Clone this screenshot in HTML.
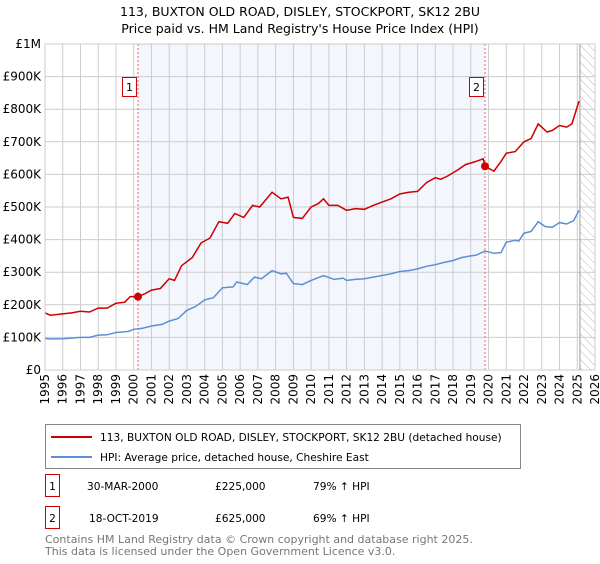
<!DOCTYPE html>
<html><head><meta charset="utf-8"><style>
body{margin:0;background:#fff;font-family:"DejaVu Sans","Liberation Sans",sans-serif;}
svg text{font-family:"DejaVu Sans","Liberation Sans",sans-serif;}
</style></head><body>
<svg id="chart" width="600" height="560" xmlns="http://www.w3.org/2000/svg">
<defs><pattern id="hatch" width="6" height="6" patternUnits="userSpaceOnUse" patternTransform="rotate(-45)"><line x1="0" y1="0" x2="0" y2="6" stroke="#bbb" stroke-width="1"/></pattern></defs>
<text x="300" y="16" text-anchor="middle" font-size="12.5">113, BUXTON OLD ROAD, DISLEY, STOCKPORT, SK12 2BU</text>
<text x="300" y="33" text-anchor="middle" font-size="12.5">Price paid vs. HM Land Registry's House Price Index (HPI)</text>
<g id="plot"></g>
<g>
<rect x="45.5" y="424.5" width="475" height="44" fill="#fff" stroke="#888"/>
<line x1="51" y1="437" x2="92" y2="437" stroke="#cc0000" stroke-width="2"/>
<text x="100" y="441" font-size="10.6">113, BUXTON OLD ROAD, DISLEY, STOCKPORT, SK12 2BU (detached house)</text>
<line x1="51" y1="457" x2="92" y2="457" stroke="#5b8fd4" stroke-width="2"/>
<text x="100" y="461" font-size="10.6">HPI: Average price, detached house, Cheshire East</text>
</g>
<g font-size="10.6">
<rect x="45.5" y="474.5" width="14" height="22" fill="#fff" stroke="#cc0000"/>
<text x="52.5" y="490" text-anchor="middle">1</text>
<text x="87" y="490">30-MAR-2000</text><text x="215" y="490">£225,000</text><text x="313" y="490">79% ↑ HPI</text>
<rect x="45.5" y="506.5" width="14" height="22" fill="#fff" stroke="#cc0000"/>
<text x="52.5" y="522" text-anchor="middle">2</text>
<text x="89" y="522">18-OCT-2019</text><text x="215" y="522">£625,000</text><text x="313" y="522">69% ↑ HPI</text>
</g>
<text x="45" y="543" font-size="11" fill="#777">Contains HM Land Registry data © Crown copyright and database right 2025.</text>
<text x="45" y="555" font-size="11" fill="#777">This data is licensed under the Open Government Licence v3.0.</text>
</svg>
<script>
const yTicks=[0,100,200,300,400,500,600,700,800,900,1000];
const yTickLabels=["£0","£100K","£200K","£300K","£400K","£500K","£600K","£700K","£800K","£900K","£1M"];
const xYears=[1995,1996,1997,1998,1999,2000,2001,2002,2003,2004,2005,2006,2007,2008,2009,2010,2011,2012,2013,2014,2015,2016,2017,2018,2019,2020,2021,2022,2023,2024,2025,2026];
const hpiT=[1995,1995.3,1996,1997,1997.5,1998,1998.5,1999,1999.7,2000,2000.5,2001,2001.6,2002,2002.5,2003,2003.5,2004,2004.5,2005,2005.6,2005.8,2006.4,2006.8,2007.2,2007.8,2008.3,2008.6,2009,2009.5,2010,2010.4,2010.7,2011.3,2011.8,2012,2012.5,2013,2013.5,2014,2014.5,2015,2015.5,2016,2016.5,2017,2017.5,2018,2018.5,2019,2019.3,2019.8,2020.3,2020.7,2021,2021.5,2021.7,2022,2022.4,2022.8,2023.2,2023.6,2024,2024.4,2024.8,2025.1];
const hpiV=[97,95,96,100,100,107,108,115,118,125,128,135,140,150,158,183,195,215,222,252,255,270,262,285,280,305,295,297,265,262,275,283,290,278,282,275,278,280,285,290,295,302,305,310,318,323,330,336,345,350,352,365,358,360,392,398,395,420,425,455,440,438,452,448,458,490];
const saleT=[1995,1995.3,1996,1996.5,1997,1997.5,1998,1998.5,1999,1999.5,1999.8,2000.24,2000.6,2001,2001.5,2002,2002.3,2002.7,2003.3,2003.8,2004.3,2004.8,2005.3,2005.7,2006.2,2006.7,2007.1,2007.8,2008.3,2008.7,2009,2009.5,2010,2010.4,2010.7,2011,2011.5,2012,2012.5,2013,2013.5,2014,2014.5,2015,2015.5,2016,2016.5,2017,2017.3,2017.7,2018.3,2018.7,2019.3,2019.7,2019.8,2020.3,2020.7,2021,2021.5,2022,2022.4,2022.8,2023.3,2023.6,2024,2024.4,2024.7,2025.1];
const saleV=[175,168,172,175,180,178,190,190,205,208,225,225,233,245,250,280,275,320,345,390,405,455,450,480,468,505,500,545,525,530,468,465,500,510,525,505,505,490,495,493,505,515,525,540,545,548,575,590,585,595,615,630,640,648,625,610,640,665,670,700,710,755,730,735,750,745,755,825];
const sales=[{t:2000.24,v:225,n:"1"},{t:2019.8,v:625,n:"2"}];
const X0=45,X1=595,Y0=370,Y1=44;
const xs=t=>X0+(t-1995)/31*(X1-X0);
const ys=v=>Y0-v/1000*(Y0-Y1);
const NS="http://www.w3.org/2000/svg";
const g=document.getElementById('plot');
function mk(tag,at,parent){const e=document.createElementNS(NS,tag);for(const k in at)e.setAttribute(k,at[k]);(parent||g).appendChild(e);return e;}
let e=mk('rect',{x:xs(sales[0].t),y:Y1,width:xs(sales[1].t)-xs(sales[0].t),height:Y0-Y1,fill:'#f3f6fd'});


e=mk('rect',{x:xs(2025.15),y:Y1,width:X1-xs(2025.15),height:Y0-Y1,fill:'url(#hatch)'});


yTicks.forEach((v,i)=>{
 e=mk('line',{x1:X0,x2:X1,y1:ys(v),y2:ys(v),stroke:'#ccc'});
 
 
 e=mk('text',{x:X0-4,y:ys(v)+4,'text-anchor':'end','font-size':'12'});e.textContent=yTickLabels[i];
 
 
});
xYears.forEach(y=>{
 e=mk('line',{x1:xs(y),x2:xs(y),y1:Y1,y2:Y0,stroke:'#ccc'});
 
 
 e=mk('text',{transform:`translate(${xs(y)+4},${Y0+4}) rotate(-90)`,'text-anchor':'end','font-size':'12'});e.textContent=y;
 
 
});
e=mk('line',{x1:xs(2025.15),x2:xs(2025.15),y1:Y1,y2:Y0,stroke:'#999'});


sales.forEach(s=>{
 e=mk('line',{x1:xs(s.t),x2:xs(s.t),y1:Y1,y2:Y0,stroke:'#f06060','stroke-dasharray':'2,2'});
 
 
});
const path=(T,V)=>T.map((t,i)=>(i?'L':'M')+xs(t).toFixed(1)+','+ys(V[i]).toFixed(1)).join('');
e=mk('path',{d:path(hpiT,hpiV),fill:'none',stroke:'#5b8fd4','stroke-width':1.5});


e=mk('path',{d:path(saleT,saleV),fill:'none',stroke:'#cc0000','stroke-width':1.5});


sales.forEach(s=>{
 e=mk('circle',{cx:xs(s.t),cy:ys(s.v),r:4,fill:'#cc0000'});
 
 
 e=mk('rect',{x:xs(s.t)-15.5,y:77.5,width:14,height:19,fill:'#fff',stroke:'#cc0000'});
 
 
 e=mk('text',{x:xs(s.t)-8.5,y:91,'text-anchor':'middle','font-size':'11'});e.textContent=s.n;
 
 
});
e=mk('rect',{x:X0,y:Y1,width:X1-X0,height:Y0-Y1,fill:'none',stroke:'#ccc'});


</script>
</body></html>
